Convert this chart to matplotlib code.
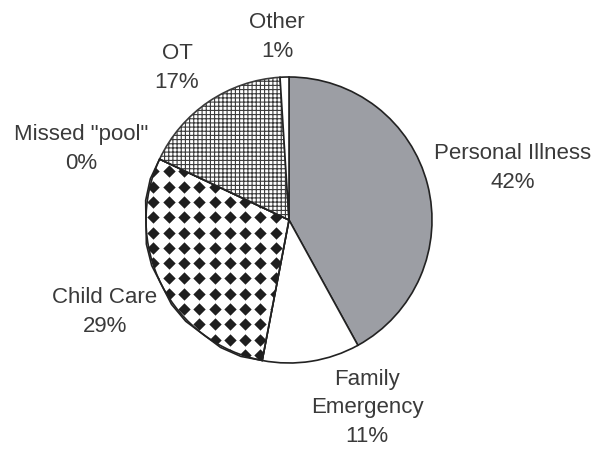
import numpy as np
import matplotlib
matplotlib.use("Agg")
import matplotlib.pyplot as plt

# Reasons for absence, in percent (clockwise from 12 o'clock)
categories = ["Personal Illness", "Family\nEmergency", "Child Care",
              "Missed \"pool\"", "OT", "Other"]
shares = [42, 11, 29, 0, 17, 1]

# Label anchor points in pixel space (x, y from the top-left corner)
label_pos = [(513, 168), (367, 408), (105, 312), (81, 149), (177, 68), (277, 37)]

W, H = 594, 451
plt.rcParams["font.family"] = ["Liberation Sans", "DejaVu Sans"]
plt.rcParams["hatch.linewidth"] = 0.8

fig = plt.figure(figsize=(W / 100, H / 100), dpi=100)
ax = fig.add_axes([0, 0, 1, 1])

cx, cy, r = 289, H - 220, 143
wedges, _ = ax.pie(shares, startangle=90, counterclock=False,
                   center=(cx, cy), radius=r,
                   colors=["#9c9ea4", "white", "white", "white", "white", "white"],
                   wedgeprops=dict(edgecolor="#222222", linewidth=1.2))

# OT: fine square grid
wedges[4].set_hatch("++++")
wedges[4].set_edgecolor("#3a3a3a")

# Child Care: black diamonds on white
step = 15.3
gx = np.arange(153.3 - 10 * step, cx + r + step, step)
gy = np.arange(186.7 - 10 * step, 220 + r + step, step)
XX, YY = np.meshgrid(gx, gy)
dots = ax.scatter(XX.ravel(), H - YY.ravel(), marker="D", s=6.3 ** 2,
                  color="#1e1e1e", linewidths=0, zorder=3)
dots.set_clip_path(wedges[2])
# redraw the child-care outline above the diamonds
ax.add_patch(plt.Polygon(wedges[2].get_path().vertices, closed=True,
                         transform=wedges[2].get_transform(), fill=False,
                         edgecolor="#222222", linewidth=1.2, zorder=4))

for name, v, (px, py) in zip(categories, shares, label_pos):
    ax.text(px, H - py, f"{name}\n{v}%", ha="center", va="center",
            fontsize=16, color="#3a3a3a", linespacing=1.5)

ax.set_xlim(0, W)
ax.set_ylim(0, H)
ax.set_aspect("equal")
ax.axis("off")
fig.savefig("out.png", dpi=100)
